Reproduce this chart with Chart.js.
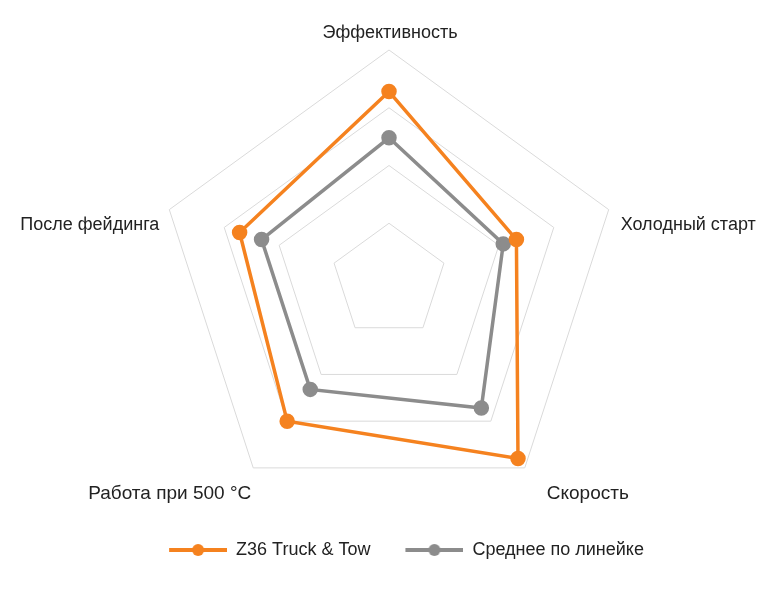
<!DOCTYPE html>
<html>
<head>
<meta charset="utf-8">
<script src="https://cdn.jsdelivr.net/npm/chart.js@4"></script>
<style>
html,body{margin:0;padding:0;background:#fff;}
#wrap{width:780px;height:600px;position:relative;}
</style>
</head>
<body>
<div id="wrap"><canvas id="c"></canvas></div>
<script>
const categories = ['Эффективность', 'Холодный старт', 'Скорость', 'Работа при 500 °C', 'После фейдинга'];
const seriesNames = ['Z36 Truck & Tow', 'Среднее по линейке'];
const z36Values = [82, 58, 95, 75, 68];
const avgValues = [62, 52, 68, 58, 58];
const scaleMin = 0, scaleMax = 100, scaleStep = 25;
const colors = ['#f5821f', '#8c8c8c'];

const FONT = "'Liberation Sans', Arial, sans-serif";

function legendMarker(color) {
  const lead = 35, len = 58;
  const c = document.createElement('canvas');
  c.width = lead + len; c.height = 14;
  const ctx = c.getContext('2d');
  ctx.strokeStyle = color;
  ctx.lineWidth = 4;
  ctx.beginPath();
  ctx.moveTo(lead, 7); ctx.lineTo(lead + len, 7);
  ctx.stroke();
  ctx.fillStyle = color;
  ctx.beginPath();
  ctx.arc(lead + len / 2, 7, 6, 0, Math.PI * 2);
  ctx.fill();
  return c;
}
const markers = colors.map(legendMarker);

// category labels placed next to the outer ring vertices of the radial scale
const labelPlacement = [
  { dx: 1, dy: -17, align: 'center', size: 18 },
  { dx: 12, dy: 15, align: 'left', size: 18 },
  { dx: 22, dy: 26, align: 'left', size: 19 },
  { dx: -2, dy: 26, align: 'right', size: 19 },
  { dx: -10, dy: 15, align: 'right', size: 18 }
];
const pointLabelPlugin = {
  id: 'pointLabelPlugin',
  afterDraw(chart) {
    const scale = chart.scales.r;
    const ctx = chart.ctx;
    ctx.save();
    ctx.fillStyle = '#222';
    ctx.textBaseline = 'middle';
    chart.data.labels.forEach((lab, i) => {
      const p = scale.getPointPosition(i, scale.drawingArea);
      const pl = labelPlacement[i];
      ctx.font = pl.size + 'px ' + FONT;
      ctx.textAlign = pl.align;
      ctx.fillText(lab, p.x + pl.dx, p.y + pl.dy);
    });
    ctx.restore();
  }
};

new Chart(document.getElementById('c'), {
  type: 'radar',
  data: {
    labels: categories,
    datasets: [
      { label: seriesNames[0], data: z36Values, borderColor: colors[0], backgroundColor: colors[0],
        pointBackgroundColor: colors[0], pointBorderColor: colors[0], borderWidth: 3.5, pointRadius: 6, fill: false },
      { label: seriesNames[1], data: avgValues, borderColor: colors[1], backgroundColor: colors[1],
        pointBackgroundColor: colors[1], pointBorderColor: colors[1], borderWidth: 3.5, pointRadius: 6, fill: false }
    ]
  },
  options: {
    responsive: true,
    maintainAspectRatio: false,
    animation: false,
    layout: { padding: { top: 50, bottom: 31, left: 2, right: 4 } },
    scales: {
      r: {
        min: scaleMin, max: scaleMax,
        ticks: { display: false, stepSize: scaleStep },
        grid: { color: '#dadada', lineWidth: 1 },
        angleLines: { display: false },
        pointLabels: { display: false }
      }
    },
    plugins: {
      tooltip: { enabled: false },
      legend: {
        position: 'bottom',
        title: { display: true, text: '', font: { size: 10 }, padding: { top: 17, bottom: 0 } },
        labels: {
          usePointStyle: true,
          pointStyleWidth: 93,
          padding: 0,
          color: '#222',
          font: { family: FONT, size: 18 },
          generateLabels: (chart) => chart.data.datasets.map((ds, i) => ({
            text: ds.label,
            pointStyle: markers[i],
            fillStyle: colors[i],
            strokeStyle: colors[i],
            lineWidth: 0,
            fontColor: '#222',
            hidden: false,
            datasetIndex: i
          }))
        }
      }
    }
  },
  plugins: [pointLabelPlugin]
});
</script>
</body>
</html>
